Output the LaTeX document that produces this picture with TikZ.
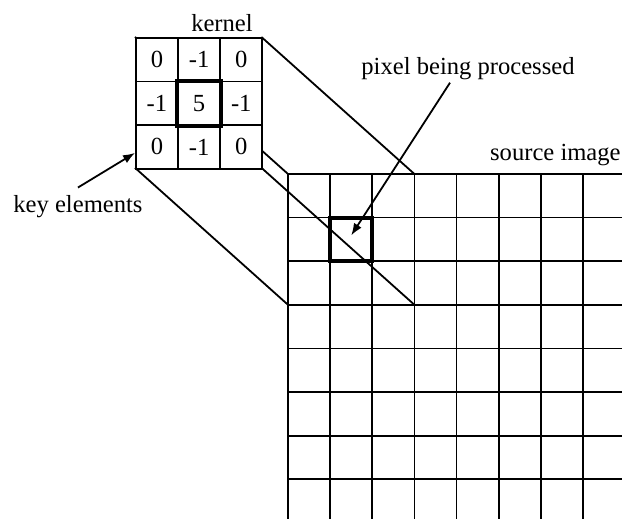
\documentclass[tikz,border=0pt]{standalone}
\usepackage{fontspec}
\setmainfont{Liberation Serif}
\usetikzlibrary{arrows.meta,calc,positioning}

\begin{document}
\begin{tikzpicture}[
      x=0.5pt, y=-0.5pt,
      font=\fontsize{12.3}{14}\selectfont,
      gridline/.style={line width=0.9pt, draw=black},
      cell/.style={draw=black, line width=0.9pt, fill=white, anchor=north west,
        minimum width=21.07pt, minimum height=21.8pt, inner sep=0pt},
      focus/.style={draw=black, line width=2pt, minimum width=21.07pt,
        minimum height=21.8pt, inner sep=0pt},
      caption/.style={inner sep=0pt},
      arrow/.style={-{Latex[length=6pt,width=4.5pt]}, line width=0.9pt}
    ]
    \useasboundingbox (0,0) rectangle (622,519);

    % source image
    \foreach \i in {0,...,7}
      \draw[gridline] (288+42.14*\i,174) -- (288+42.14*\i,519);
    \foreach \j in {0,...,7}
      \draw[gridline] (288,174+43.6*\j) -- (622,174+43.6*\j);

    \coordinate (rtl) at (288,174);
    \coordinate (rtr) at (414.42,174);
    \coordinate (rbl) at (288,304.8);
    \coordinate (rbr) at (414.42,304.8);

    \coordinate (ktl) at (135,37);
    \coordinate (ktr) at (261.42,37);
    \coordinate (kbl) at (135,167.8);
    \coordinate (kbr) at (261.42,167.8);

    \draw[gridline] (ktl) -- (rtl);
    \draw[gridline] (ktr) -- (rtr);
    \draw[gridline] (kbl) -- (rbl);
    \draw[gridline] (kbr) -- (rbr);

    % kernel
    \foreach \v [count=\n from 0] in {0,-1,0,-1,5,-1,0,-1,0} {
      \pgfmathtruncatemacro\r{div(\n,3)}
      \pgfmathtruncatemacro\c{mod(\n,3)}
      \node[cell] (k\r\c) at (135+42.14*\c,37+43.6*\r) {\v};
    }
    \draw[focus] (k11.north west) rectangle (k11.south east);

    \node[focus] (pix) at (351.21,239.4) {};

    \node[caption, anchor=base] (kernellbl) at (222,32) {kernel};
    \node[caption, anchor=base] (pixlbl) at (468,75) {pixel being processed};
    \node[caption, anchor=base east] (srclbl) at (621,161) {source image};
    \node[caption, anchor=base west] (keylbl) at (13,213) {key elements};

    \draw[arrow] ([yshift=4pt]keylbl.north) -- ([yshift=-3pt]k20.west);
    \draw[arrow] ([xshift=-9pt,yshift=-1pt]pixlbl.south) -- ([yshift=2pt]pix.center);
  \end{tikzpicture}
\end{document}
